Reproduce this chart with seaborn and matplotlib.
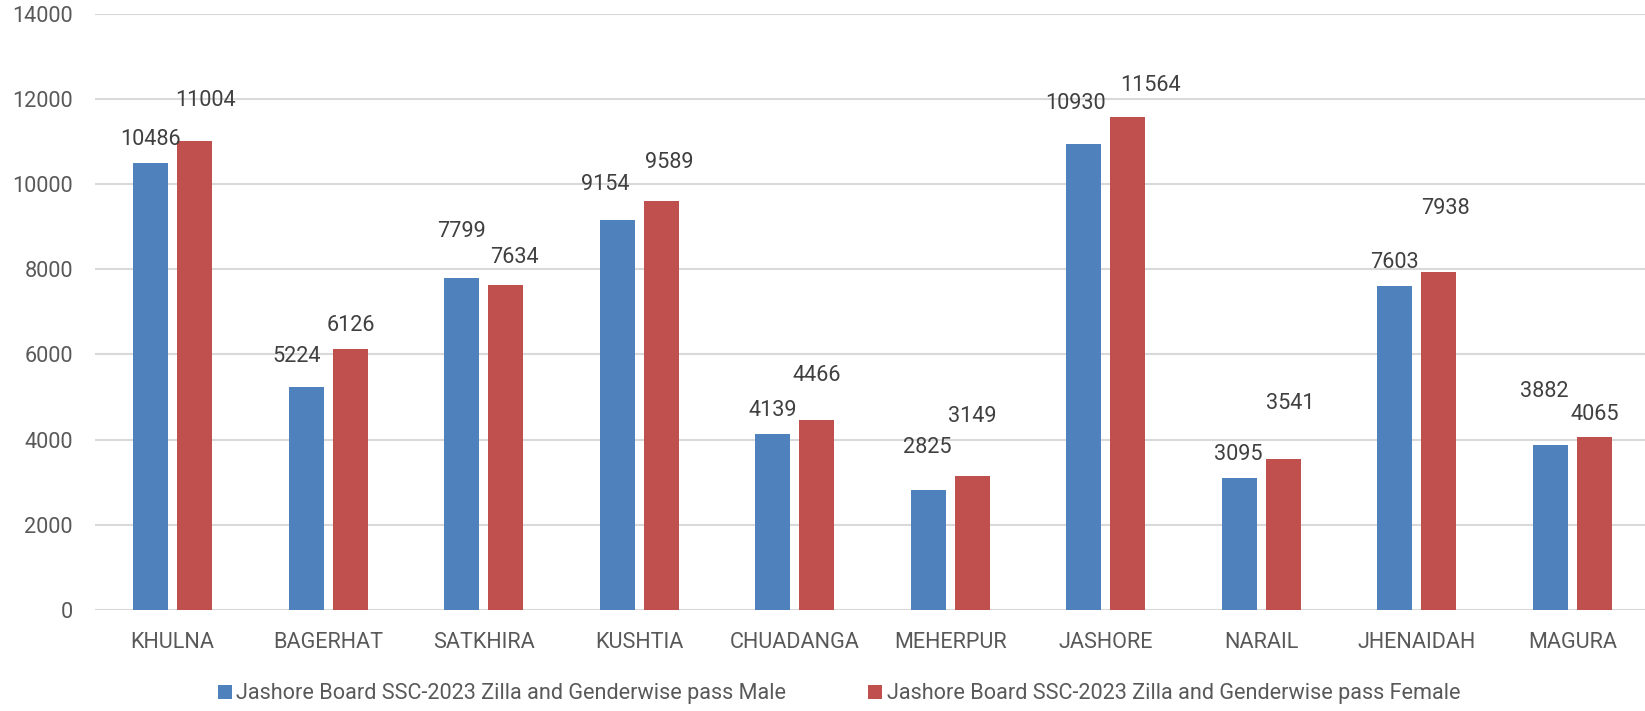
import matplotlib
matplotlib.use("Agg")
import matplotlib.pyplot as plt
import seaborn as sns
import pandas as pd
from matplotlib.patches import Patch

districts = ["KHULNA", "BAGERHAT", "SATKHIRA", "KUSHTIA", "CHUADANGA",
             "MEHERPUR", "JASHORE", "NARAIL", "JHENAIDAH", "MAGURA"]
male = [10486, 5224, 7799, 9154, 4139, 2825, 10930, 3095, 7603, 3882]
female = [11004, 6126, 7634, 9589, 4466, 3149, 11564, 3541, 7938, 4065]
series_names = ["Jashore Board SSC-2023 Zilla and Genderwise pass Male",
                "Jashore Board SSC-2023 Zilla and Genderwise pass Female"]
yticks = [0, 2000, 4000, 6000, 8000, 10000, 12000, 14000]

# label placement (pixel offsets from bar top centre to label centre)
male_off = [(0, 26), (-9, 33), (0, 49), (-12, 38), (0, 25),
            (-1, 44), (-8.5, 43), (-1, 26), (0, 26), (-6, 55)]
female_off = [(11, 43), (0, 26), (8, 30), (8, 41), (0, 47),
              (0, 62), (22.6, 34), (7, 58), (6, 66), (0, 25)]

colors = ["#4F81BD", "#C0504D"]
text_col = "#595959"
label_col = "#404040"
fs = 15.6

df = pd.DataFrame({
    "district": districts * 2,
    "series": [series_names[0]] * len(districts) + [series_names[1]] * len(districts),
    "value": male + female,
})

sns.set_theme(style="white")
plt.rcParams["font.family"] = ["Roboto", "DejaVu Sans"]

fig = plt.figure(figsize=(16.45, 7.11), dpi=100)
ax = fig.add_axes([95 / 1645, 1 - 610 / 711, 1555 / 1645, (610 - 13.5) / 711])

sns.barplot(data=df, x="district", y="value", hue="series", order=districts,
            hue_order=series_names, palette=colors, width=0.572, gap=0.213,
            saturation=1, legend=False, ax=ax, zorder=3,
            edgecolor="none")

ax.set_ylim(0, 14000)
ax.set_xlim(-0.5, len(districts) - 0.5)
ax.set_yticks(yticks)
ax.set_yticklabels([str(t) for t in yticks])
ax.yaxis.grid(True, color="#D9D9D9", linewidth=1.5, zorder=0)
ax.set_axisbelow(True)
for s in ax.spines.values():
    s.set_visible(False)
ax.axhline(0, color="#D9D9D9", linewidth=2, zorder=2)
ax.set_xlabel("")
ax.set_ylabel("")
ax.tick_params(axis="y", length=0, pad=16, labelsize=fs, labelcolor=text_col)
ax.tick_params(axis="x", length=0, pad=16, labelsize=fs, labelcolor=text_col)

px = 0.72  # points per pixel at dpi 100
for cont, offs in zip(ax.containers, [male_off, female_off]):
    for bar, (dx, dy) in zip(cont, offs):
        h = bar.get_height()
        xc = bar.get_x() + bar.get_width() / 2
        ax.annotate(f"{int(round(h))}", (xc, h), xytext=(dx * px, (dy - 7.8) * px),
                    textcoords="offset points", ha="center", va="baseline",
                    fontsize=fs, color=label_col, annotation_clip=False)

handles = [Patch(facecolor=c, edgecolor="none") for c in colors]
fig.legend(handles, series_names, loc="center", bbox_to_anchor=(0.51, 1 - 694 / 711),
           ncol=2, frameon=False, fontsize=fs, handlelength=0.65, handleheight=0.65,
           handletextpad=0.2, columnspacing=3.8, labelcolor=text_col,
           borderpad=0, borderaxespad=0)

fig.savefig("out.png", dpi=100)
